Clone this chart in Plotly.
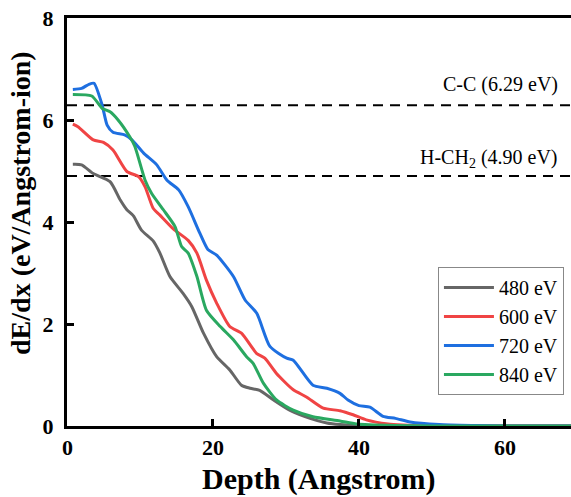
import plotly.graph_objects as go

# ---- data ----
names = ["480 eV", "600 eV", "720 eV", "840 eV"]
colors = ["#666666", "#f04444", "#1e6fe0", "#2aa860"]

depth_480 = [0.8, 2.0, 3.6, 5.9, 7.3, 8.2, 9.1, 10.2, 11.8, 12.7, 14.1, 15.9, 17.1, 18.7, 20.5,
             22.3, 23.9, 25.1, 26.4, 28.3, 30.5, 33.3, 35.6, 37.4, 40, 45, 50, 60, 71]
de_480 = [5.13, 5.12, 4.95, 4.79, 4.43, 4.24, 4.12, 3.84, 3.63, 3.40, 2.93, 2.60, 2.34, 1.82, 1.36,
          1.10, 0.80, 0.74, 0.70, 0.51, 0.31, 0.15, 0.06, 0.03, 0.01, 0.0, 0.0, 0.0, 0.0]

depth_600 = [0.8, 1.5, 3.6, 5.0, 6.3, 8.2, 9.8, 10.7, 11.8, 12.7, 14.6, 16.6, 17.8, 19.1, 20.5,
             22.3, 23.9, 26.0, 27.1, 28.7, 31.0, 32.8, 35.1, 37.4, 39.2, 41, 44, 46, 50, 60, 71]
de_600 = [5.92, 5.87, 5.61, 5.56, 5.41, 4.99, 4.89, 4.69, 4.27, 4.14, 3.86, 3.64, 3.39, 2.86, 2.41,
          1.95, 1.82, 1.42, 1.33, 1.03, 0.71, 0.57, 0.35, 0.30, 0.22, 0.12, 0.04, 0.02, 0.0, 0.0, 0.0]

depth_720 = [0.8, 2.0, 3.0, 3.7, 4.8, 5.5, 6.3, 7.9, 8.9, 10.5, 12.3, 13.7, 15.3, 16.6, 18.2, 19.3,
             20.5, 22.8, 24.4, 26.0, 27.8, 30.1, 31.0, 33.7, 35.6, 37.4, 38.5, 40, 41.5, 43.3, 45,
             47, 51, 56, 60, 71]
de_720 = [6.60, 6.62, 6.70, 6.72, 6.30, 5.90, 5.76, 5.71, 5.61, 5.35, 5.12, 4.82, 4.63, 4.30, 3.78, 3.46,
          3.35, 2.93, 2.47, 2.21, 1.56, 1.33, 1.29, 0.80, 0.74, 0.64, 0.51, 0.40, 0.37, 0.19, 0.15,
          0.08, 0.03, 0.01, 0.0, 0.0]

depth_840 = [0.8, 3.4, 4.8, 5.9, 7.0, 8.6, 9.3, 10.7, 11.6, 13.2, 14.8, 15.7, 16.6, 17.8, 19.1,
             21.0, 22.8, 24.6, 25.5, 26.9, 28.7, 31.0, 33.7, 37.4, 39.7, 45, 50, 60, 71]
de_840 = [6.50, 6.47, 6.23, 6.16, 6.00, 5.67, 5.48, 4.82, 4.56, 4.24, 3.91, 3.52, 3.39, 2.93, 2.27,
          1.95, 1.69, 1.36, 1.23, 0.84, 0.51, 0.31, 0.18, 0.10, 0.04, 0.01, 0.0, 0.0, 0.0]

bond_labels = ["C-C (6.29 eV)", "H-CH<sub>2</sub> (4.90 eV)"]
bond_values = [6.29, 4.90]
x_ticks = [0, 20, 40, 60]
y_ticks = [0, 2, 4, 6, 8]
x_title = "Depth (Angstrom)"
y_title = "dE/dx (eV/Angstrom-ion)"

FONT = "Liberation Serif"
TICKFONT = dict(family=FONT, size=22, color="black", weight="bold")

fig = go.Figure()

# reference dashed lines
for v in bond_values:
    fig.add_trace(go.Scatter(x=[0, 71], y=[v, v], mode="lines",
                             line=dict(color="black", width=2, dash="10px,7px"),
                             showlegend=False, hoverinfo="skip"))

series = [(depth_480, de_480), (depth_600, de_600), (depth_720, de_720), (depth_840, de_840)]
for (dx, dy), name, col in zip(series, names, colors):
    fig.add_trace(go.Scatter(x=dx, y=dy, mode="lines", name=name,
                             line=dict(color=col, width=3, shape="spline", smoothing=0.6)))

for lab, v, ys in zip(bond_labels, bond_values, [7, 3]):
    fig.add_annotation(x=0.979, xref="paper", y=v, yref="y", text=lab, showarrow=False,
                       xanchor="right", yanchor="bottom", yshift=ys,
                       font=dict(family=FONT, size=20, color="black"))

# x tick label at the origin (plotly hides it at the axis corner); the origin is the
# left edge of the x domain, so it is placed in paper coordinates
fig.add_annotation(x=0, xref="paper", y=0, yref="paper", text=str(x_ticks[0]),
                   showarrow=False, xanchor="center", yanchor="middle", yshift=-21,
                   font=TICKFONT)

# axis titles
fig.add_annotation(x=0.5, xref="paper", y=0, yref="paper", text=x_title, showarrow=False,
                   xanchor="center", yanchor="top", yshift=-34,
                   font=dict(family=FONT, size=30, color="black", weight="bold"))
fig.add_annotation(x=-0.0913, xref="paper", y=0.5466, yref="paper", text=y_title, showarrow=False,
                   xanchor="center", yanchor="middle", textangle=-90,
                   font=dict(family=FONT, size=28, color="black", weight="bold"))

fig.update_layout(
    width=571, height=497,
    margin=dict(l=67, r=0, t=18, b=71),
    paper_bgcolor="white", plot_bgcolor="white",
    font=dict(family=FONT, color="black"),
    legend=dict(x=0.986, y=0.39, xanchor="right", yanchor="top",
                bordercolor="#888888", borderwidth=1, bgcolor="white",
                font=dict(family=FONT, size=20, color="black"),
                itemwidth=50, tracegroupgap=0),
)
fig.update_xaxes(range=[0, 69.05], tickvals=x_ticks[1:], ticks="inside", ticklen=7, tickwidth=2.5,
                 tickcolor="black", showline=True, linewidth=3, linecolor="black", mirror=True,
                 showgrid=False, zeroline=False, ticklabeloverflow="allow",
                 tickfont=TICKFONT)
fig.update_yaxes(range=[0, 8], tickvals=y_ticks, ticks="inside", ticklen=7, tickwidth=2.5,
                 tickcolor="black", showline=True, linewidth=3, linecolor="black",
                 showgrid=False, zeroline=False, ticklabeloverflow="allow",
                 ticklabelstandoff=6, tickfont=TICKFONT)

fig.write_html("out.html", config={"displayModeBar": False},
               post_script="document.body.style.margin='0';document.body.style.overflow='hidden';")
